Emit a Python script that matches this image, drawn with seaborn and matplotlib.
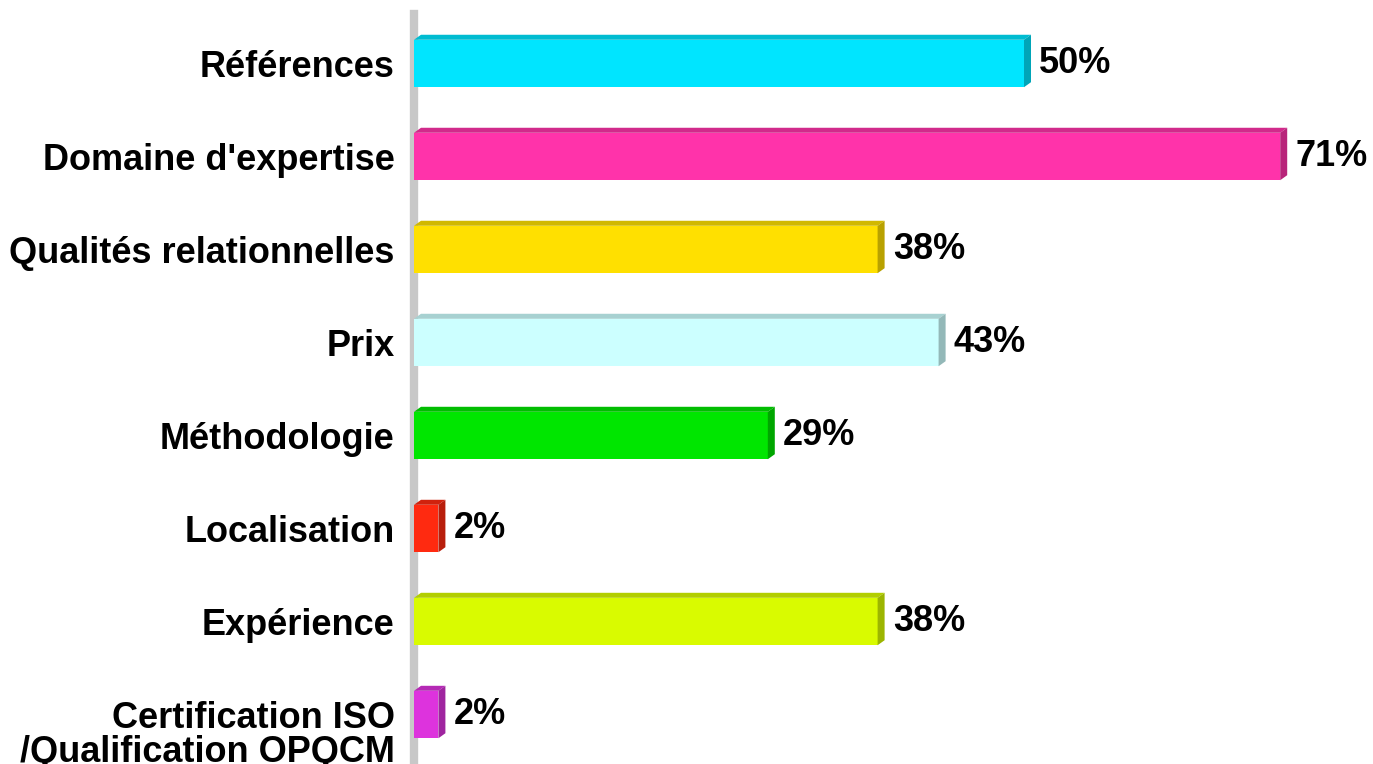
import pandas as pd
import seaborn as sns
import matplotlib.pyplot as plt
import matplotlib.colors as mcolors
from matplotlib.patches import Polygon

# data
categories = [
    "Références",
    "Domaine d'expertise",
    "Qualités relationnelles",
    "Prix",
    "Méthodologie",
    "Localisation",
    "Expérience",
    "Certification ISO",
]
second_line = "/Qualification OPQCM"  # wrapped part of the last category
values = [50, 71, 38, 43, 29, 2, 38, 2]
bar_colors = ["#00E5FF", "#FF33AA", "#FFE000", "#CCFFFF",
              "#00E600", "#FF2A10", "#D9FB00", "#DD33DD"]

df = pd.DataFrame({"Critere": categories, "Pourcentage": values})

sns.set_theme(style="white")
plt.rcParams["font.family"] = ["Liberation Sans", "DejaVu Sans"]

fig = plt.figure(figsize=(13.73, 7.64), dpi=100)
ax = fig.add_axes([414 / 1373, 0.0, 1 - 414 / 1373, 1 - 14 / 764])

sns.barplot(data=df, x="Pourcentage", y="Critere", hue="Critere",
            palette=bar_colors, legend=False, width=0.51, saturation=1,
            edgecolor="none", linewidth=0, ax=ax, zorder=3)

ax.set_xlim(0, 959 / 12.2)
ax.set_ylim(7.532, -0.532)

# fake 3D depth: side and top faces, offsets in pixels turned into data units
px_x = ax.transData.transform((1, 0))[0] - ax.transData.transform((0, 0))[0]
px_y = ax.transData.transform((0, 0))[1] - ax.transData.transform((0, 1))[1]
dx = 7 / px_x
dy = 5 / px_y

bars = [p for p in ax.patches if p.get_width() > 0]
bars.sort(key=lambda p: p.get_y())
for patch, col in zip(bars, bar_colors):
    x0, y0 = patch.get_x(), patch.get_y()
    w, h = patch.get_width(), patch.get_height()
    x1 = x0 + w
    top, bot = y0, y0 + h  # inverted y axis: y0 is the upper edge
    dark = tuple(c * 0.82 for c in mcolors.to_rgb(col))
    darker = tuple(c * 0.72 for c in mcolors.to_rgb(col))
    ax.add_patch(Polygon([(x0, top), (x1, top), (x1 + dx, top - dy), (x0 + dx, top - dy)],
                         closed=True, facecolor=dark, edgecolor="none", zorder=3))
    ax.add_patch(Polygon([(x1, top), (x1 + dx, top - dy), (x1 + dx, bot - dy), (x1, bot)],
                         closed=True, facecolor=darker, edgecolor="none", zorder=3))

# value labels
for patch in bars:
    ax.annotate(f"{patch.get_width():.0f}%",
                (patch.get_x() + patch.get_width(), patch.get_y() + patch.get_height() / 2),
                xytext=(11, 0), textcoords="offset points", va="center", ha="left",
                fontsize=26, fontweight="bold", color="black")

ax.set_xlabel("")
ax.set_ylabel("")
ax.set_xticks([])
ax.tick_params(axis="y", length=0, pad=14)
for lab in ax.get_yticklabels():
    lab.set_fontsize(26)
    lab.set_fontweight("bold")
    lab.set_color("black")

# second line of the last category label
ax.annotate(second_line, xy=(0, len(categories) - 1), xycoords=("axes fraction", "data"),
            xytext=(-14, -27.4), textcoords="offset points", ha="right", va="center",
            fontsize=26, fontweight="bold", color="black", annotation_clip=False)

for side in ["top", "right", "bottom"]:
    ax.spines[side].set_visible(False)
ax.spines["left"].set_color("#C8C8C8")
ax.spines["left"].set_linewidth(6)

fig.savefig("out.png", dpi=100)
